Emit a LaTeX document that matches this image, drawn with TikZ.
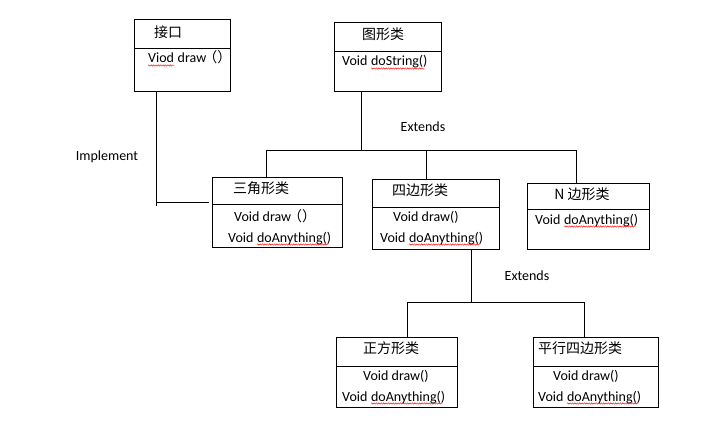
\documentclass[tikz,border=0pt]{standalone}
\usepackage{fontspec}
\setmainfont{Carlito}
\newfontfamily\cjk{Noto Sans CJK SC}
\usetikzlibrary{decorations.pathmorphing,calc}
\begin{document}
\begin{tikzpicture}[x=1pt,y=-1pt,
  box/.style={draw,line width=0.8pt,anchor=north west,inner sep=0pt},
  txt/.style={inner sep=0pt,anchor=base west,font=\fontsize{14}{17}\selectfont},
  cn/.style={inner sep=0pt,font=\cjk\fontsize{14}{17}\selectfont},
  lbl/.style={inner sep=0pt,font=\fontsize{14}{17}\selectfont},
  conn/.style={line width=0.8pt},
  wave/.style={red,line width=0.4pt,decorate,decoration={snake,amplitude=0.7pt,segment length=2.4pt}}]
\useasboundingbox (0,0) rectangle (728,436);
\fill[white] (0,0) rectangle (728,436);

% boxes
\node[box,minimum width=96pt,minimum height=72pt] (jk) at (134,19) {};
\node[box,minimum width=107pt,minimum height=69pt] (tx) at (334,22) {};
\node[box,minimum width=130pt,minimum height=70pt] (sj) at (212,177) {};
\node[box,minimum width=127pt,minimum height=70pt] (sb) at (372,179) {};
\node[box,minimum width=122pt,minimum height=66pt] (nb) at (527,183) {};
\node[box,minimum width=121pt,minimum height=70pt] (zf) at (336,337) {};
\node[box,minimum width=125pt,minimum height=70pt] (px) at (533,337) {};

% dividers
\draw[conn] (jk.west |- 0,48) -- (jk.east |- 0,48);
\draw[conn] (tx.west |- 0,51) -- (tx.east |- 0,51);
\draw[conn] (sj.west |- 0,204) -- (sj.east |- 0,204);
\draw[conn] (sb.west |- 0,207) -- (sb.east |- 0,207);
\draw[conn] (nb.west |- 0,209) -- (nb.east |- 0,209);
\draw[conn] (zf.west |- 0,366) -- (zf.east |- 0,366);
\draw[conn] (px.west |- 0,366) -- (px.east |- 0,366);

% titles
\node[cn] (jkT) at (168,32) {接口};
\node[cn] (txT) at (383,34) {图形类};
\node[cn] (sjT) at (261,188) {三角形类};
\node[cn] (sbT) at (420,190) {四边形类};
\node[cn] (nbT) at (582,194) {N 边形类};
\node[cn] (zfT) at (391,348) {正方形类};
\node[cn] (pxT) at (580,348) {平行四边形类};

% methods
\node[txt] (jk1a) at (148,63) {Viod};
\node[txt] (jk1b) at ([xshift=3.2pt]jk1a.base east) {draw\hspace{-3pt}{\cjk （）}};
\draw[wave] ([yshift=-2.5pt]jk1a.base west) -- ([yshift=-2.5pt]jk1a.base east);

\node[txt] (tx1a) at (342,66) {Void};
\node[txt] (tx1b) at ([xshift=3.2pt]tx1a.base east) {doString()};
\draw[wave] ([yshift=-2.5pt]tx1b.base west) -- ([yshift=-2.5pt,xshift=-3pt]tx1b.base east);

\node[txt] (sj1) at (234,221) {Void draw\hspace{-3pt}{\cjk （）}};
\node[txt] (sj2a) at (228,242) {Void};
\node[txt] (sj2b) at ([xshift=3.2pt]sj2a.base east) {doAnything()};
\draw[wave] ([yshift=-2.5pt]sj2b.base west) -- ([yshift=-2.5pt,xshift=-3pt]sj2b.base east);

\node[txt] (sb1) at (393,221) {Void draw()};
\node[txt] (sb2a) at (380,242) {Void};
\node[txt] (sb2b) at ([xshift=3.2pt]sb2a.base east) {doAnything()};
\draw[wave] ([yshift=-2.5pt]sb2b.base west) -- ([yshift=-2.5pt,xshift=-3pt]sb2b.base east);

\node[txt] (nb1a) at (535,224) {Void};
\node[txt] (nb1b) at ([xshift=3.2pt]nb1a.base east) {doAnything()};
\draw[wave] ([yshift=-2.5pt]nb1b.base west) -- ([yshift=-2.5pt,xshift=-3pt]nb1b.base east);

\node[txt] (zf1) at (363,380) {Void draw()};
\node[txt] (zf2a) at (342,401) {Void};
\node[txt] (zf2b) at ([xshift=3.2pt]zf2a.base east) {doAnything()};
\draw[wave] ([yshift=-2.5pt]zf2b.base west) -- ([yshift=-2.5pt,xshift=-3pt]zf2b.base east);

\node[txt] (px1) at (553,380) {Void draw()};
\node[txt] (px2a) at (538,401) {Void};
\node[txt] (px2b) at ([xshift=3.2pt]px2a.base east) {doAnything()};
\draw[wave] ([yshift=-2.5pt]px2b.base west) -- ([yshift=-2.5pt,xshift=-3pt]px2b.base east);

% labels
\node[lbl] (lImp) at (107,157) {Implement};
\node[lbl] (lExt1) at (423,127) {Extends};
\node[lbl] (lExt2) at (527,276) {Extends};

% inheritance tree 1
\coordinate (hT) at (361,150);
\coordinate (hL) at (266,150);
\coordinate (hM) at (426,150);
\coordinate (hR) at (576,150);
\draw[conn] (hT |- tx.south) -- (hT);
\draw[conn] (hL) -- (hR);
\draw[conn] (hL) -- (hL |- sj.north);
\draw[conn] (hM) -- (hM |- sb.north);
\draw[conn] (hR) -- (hR |- nb.north);

% implement
\coordinate (iC) at (156,202);
\coordinate (iB) at (156,206);
\coordinate (iE) at (209,202);
\draw[conn] (iC |- jk.south) -- (iB);
\draw[conn] (iC) -- (iE);

% inheritance tree 2
\coordinate (s2) at (471,302);
\coordinate (s2L) at (407,302);
\coordinate (s2R) at (584,302);
\draw[conn] (s2 |- sb.south) -- (s2);
\draw[conn] (s2L) -- (s2R);
\draw[conn] (s2L) -- (s2L |- zf.north);
\draw[conn] (s2R) -- (s2R |- px.north);
\end{tikzpicture}
\end{document}
